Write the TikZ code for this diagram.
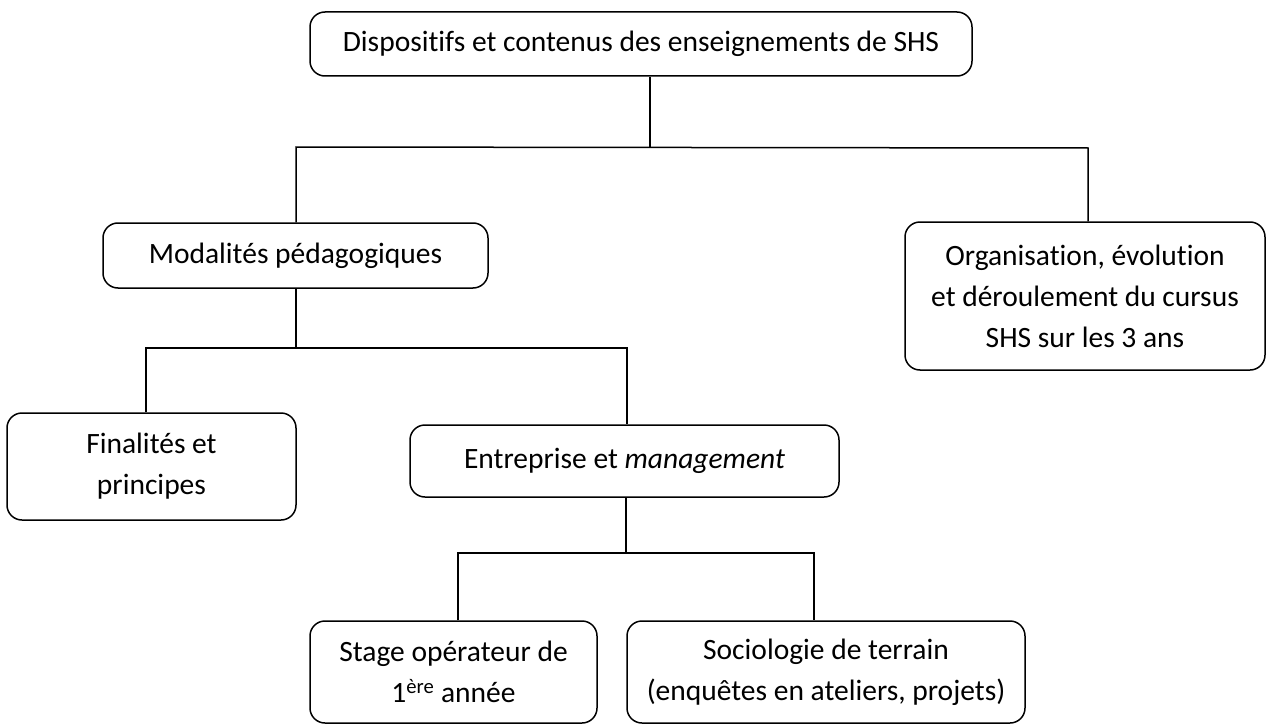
\documentclass[tikz,border=0pt]{standalone}
\usepackage{fontspec}
\setmainfont{Carlito}[Ligatures=NoCommon]
\begin{document}
\begin{tikzpicture}[x=1pt,y=-1pt,
  box/.style={draw,line width=1.5pt,rounded corners=15pt,inner sep=0pt,align=center,
    font=\fontsize{29.5}{41}\selectfont},
  conn/.style={line width=1.5pt}]
\useasboundingbox (0,0) rectangle (1272,725);
% boxes: centre = middle of the measured edges
\node[box,minimum width=662,minimum height=64] (top) at (641,44) {Dispositifs et contenus des enseignements de SHS};
\node[box,minimum width=385,minimum height=65] (mod) at (295.5,255.5) {Modalités pédagogiques};
\node[box,minimum width=360,minimum height=148] (org) at (1085,296) {Organisation, évolution\\et déroulement du cursus\\SHS sur les 3 ans};
\node[box,minimum width=289,minimum height=107] (fin) at (151.5,466.5) {Finalités et\\principes};
\node[box,minimum width=429,minimum height=72] (ent) at (624.5,461) {Entreprise et \textit{management}};
\node[box,minimum width=287,minimum height=102] (sta) at (453.5,672) {Stage opérateur de\\1\textsuperscript{ère} année};
\node[box,minimum width=398,minimum height=102] (soc) at (826,672) {Sociologie de terrain\\(enquêtes en ateliers, projets)};
% junction points
\coordinate (a1) at (650,147);
\coordinate (a2) at (296,147);
\coordinate (a3) at (1088,148);
\coordinate (b1) at (296,348);
\coordinate (b2) at (146,348);
\coordinate (b3) at (627,348);
\coordinate (c1) at (626,553);
\coordinate (c2) at (458,553);
\coordinate (c3) at (814,553);
\draw[conn] (a1 |- top.south) -- (a1);
\draw[conn] (a2 |- mod.north) -- (a2) -- (a3) -- (a3 |- org.north);
\draw[conn] (b1 |- mod.south) -- (b1);
\draw[conn] (b2 |- fin.north) -- (b2) -- (b3) -- (b3 |- ent.north);
\draw[conn] (c1 |- ent.south) -- (c1);
\draw[conn] (c2 |- sta.north) -- (c2) -- (c3) -- (c3 |- soc.north);
\end{tikzpicture}
\end{document}
